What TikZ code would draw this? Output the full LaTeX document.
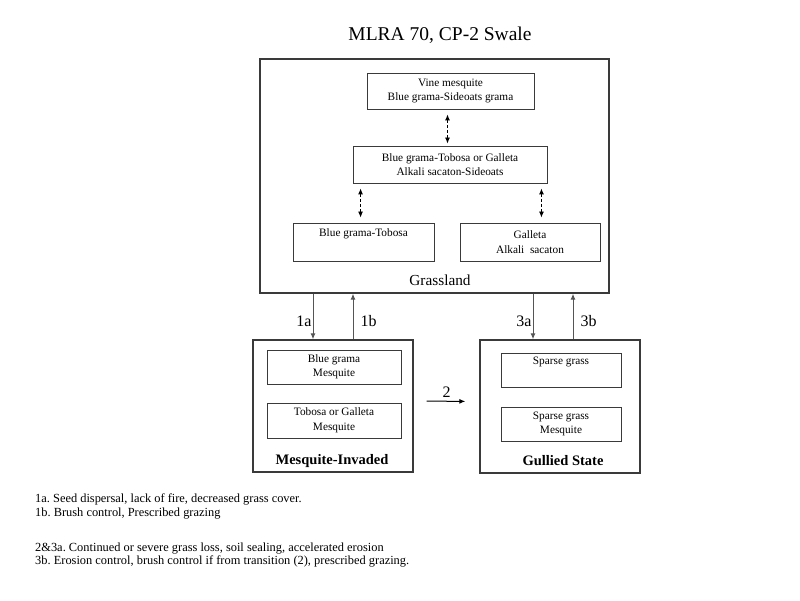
\documentclass[tikz,border=0pt]{standalone}
\usepackage{fontspec}
\setmainfont{Liberation Serif}
\usepackage{xcolor}
\usetikzlibrary{arrows.meta}
\frenchspacing

\begin{document}
\begin{tikzpicture}[x=1pt,y=1pt,
  outerbox/.style={draw=linegray,line width=1.4pt,inner sep=0pt},
  innerbox/.style={draw=linegray,line width=0.9pt,inner sep=0pt,align=center,font=\fontsize{11.3}{14.5}\selectfont},
  trans/.style={draw=arrowgray,line width=1pt,-{Latex[length=6pt,width=5pt]}},
  dasharr/.style={draw=black,line width=0.9pt,dash pattern=on 3pt off 2pt,{Latex[length=6pt,width=5pt]}-{Latex[length=6pt,width=5pt]}},
  lbl/.style={font=\fontsize{16}{18}\selectfont},
  notes/.style={anchor=west,align=left,inner sep=0pt,font=\fontsize{12.4}{13.5}\selectfont}]
\definecolor{linegray}{HTML}{3A3A3A}
\definecolor{arrowgray}{HTML}{555555}
\useasboundingbox (0,0) rectangle (800,600);
\node (title) at (440,565) {\fontsize{19.5}{22}\selectfont MLRA 70, CP-2 Swale};
% Grassland state
\node [outerbox,minimum width=349,minimum height=234] (grass) at (434.5,424) {};
\node [font=\fontsize{15.3}{18}\selectfont] (grasslbl) at (440,320) {Grassland};
\node [innerbox,minimum width=167,minimum height=36] (vine) at (450.5,509) {Vine mesquite\\Blue grama-Sideoats grama};
\node [innerbox,minimum width=194,minimum height=37] (bgto) at (450,435.5) {Blue grama-Tobosa or Galleta\\Alkali sacaton-Sideoats};
\node [innerbox,minimum width=141,minimum height=38] (bgt) at (363.5,358) {Blue grama-Tobosa\\\strut};
\node [innerbox,minimum width=140,minimum height=38] (galleta) at (530,358) {Galleta\\Alkali\ \ sacaton};
\draw [dasharr,shorten <=5pt,shorten >=2pt] ([xshift=-3pt]vine.south) -- ([xshift=-3pt]vine.south |- bgto.north);
\draw [dasharr,shorten <=5pt,shorten >=5pt] ([xshift=8pt]bgto.south west) -- ([xshift=8pt]bgto.south west |- bgt.north);
\draw [dasharr,shorten <=5pt,shorten >=5pt] ([xshift=-6pt]bgto.south east) -- ([xshift=-6pt]bgto.south east |- galleta.north);
% Mesquite-Invaded state
\node [outerbox,minimum width=160,minimum height=132] (mesq) at (333,194) {};
\node [innerbox,minimum width=134,minimum height=34] (bgm) at (334,233) {Blue grama\\Mesquite};
\node [innerbox,minimum width=134,minimum height=35] (tgm) at (334,179.5) {Tobosa or Galleta\\Mesquite};
\node [font=\bfseries\fontsize{14.5}{17}\selectfont] (mesqlbl) at (332,139) {Mesquite-Invaded};
% Gullied state
\node [outerbox,minimum width=160,minimum height=133] (gull) at (560,193.5) {};
\node [innerbox,minimum width=120,minimum height=34] (sg) at (561,230) {Sparse grass\\\strut};
\node [innerbox,minimum width=120,minimum height=34] (sgm) at (561,176) {Sparse grass\\Mesquite};
\node [font=\bfseries\fontsize{14.5}{17}\selectfont] (gulllbl) at (563,139) {Gullied State};
% transitions
\draw [trans] ([xshift=-20pt]mesq.north |- grass.south) -- node [lbl,left,inner sep=1pt,pos=0.6] {1a} ([xshift=-20pt]mesq.north);
\draw [trans] ([xshift=20pt]mesq.north) -- node [lbl,right,inner sep=7pt,pos=0.4] {1b} ([xshift=20pt]mesq.north |- grass.south);
\draw [trans] ([xshift=-27pt]gull.north |- grass.south) -- node [lbl,left,inner sep=1pt,pos=0.6] {3a} ([xshift=-27pt]gull.north);
\draw [trans] ([xshift=13pt]gull.north) -- node [lbl,right,inner sep=7pt,pos=0.4] {3b} ([xshift=13pt]gull.north |- grass.south);
\draw [trans,draw=black,shorten <=13pt,shorten >=14pt] ([yshift=5pt]mesq.east) -- node [lbl,above,inner sep=3pt] {2} ([yshift=5pt]gull.east -| gull.west);
% notes
\node [notes] (notes1) at (35,93.5) {1a. Seed dispersal, lack of fire, decreased grass cover.\\1b. Brush control, Prescribed grazing};
\node [notes] (notes2) at (35,45) {2\&3a. Continued or severe grass loss, soil sealing, accelerated erosion\\3b. Erosion control, brush control if from transition (2), prescribed grazing.};
\end{tikzpicture}
\end{document}
